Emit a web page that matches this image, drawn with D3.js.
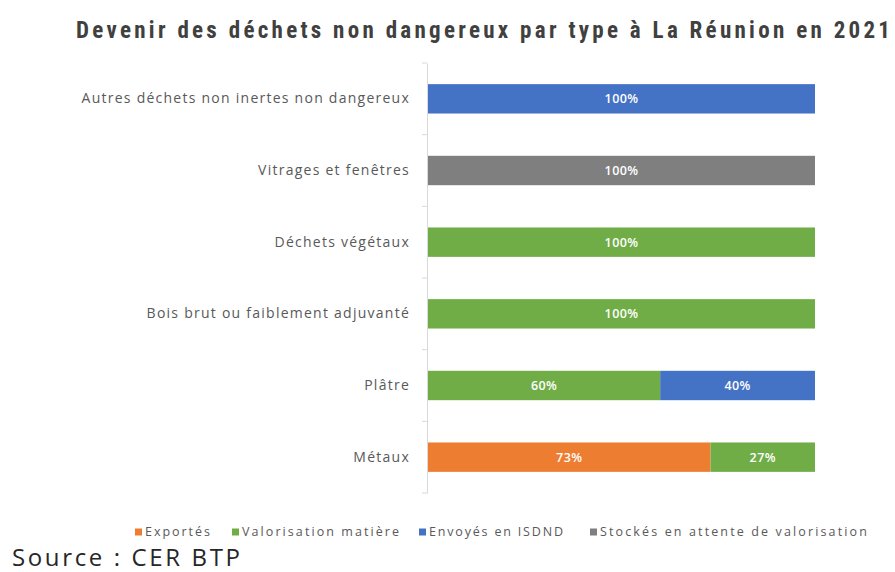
<!DOCTYPE html>
<html>
<head>
<meta charset="utf-8">
<script src="https://cdn.jsdelivr.net/npm/d3@7"></script>
<style>
  body { margin: 0; background: #fff; }
  svg { display: block; }
</style>
</head>
<body>
<div id="chart"></div>
<script>
(() => {

// DATA
const categories = [
  "Autres déchets non inertes non dangereux",
  "Vitrages et fenêtres",
  "Déchets végétaux",
  "Bois brut ou faiblement adjuvanté",
  "Plâtre",
  "Métaux"
];
const seriesNames = ["Exportés", "Valorisation matière", "Envoyés en ISDND", "Stockés en attente de valorisation"];
const exportes     = [0, 0, 0, 0, 0, 73];
const valorisation = [0, 0, 100, 100, 60, 27];
const envoyes      = [100, 0, 0, 0, 40, 0];
const stockes      = [0, 100, 0, 0, 0, 0];
const seriesColors = ["#ED7D31", "#70AD47", "#4472C4", "#7F7F7F"];

const width = 895, height = 572;
const font = "'Open Sans', 'Noto Sans', sans-serif";

const svg = d3.select("#chart")
  .append("svg")
  .attr("width", width)
  .attr("height", height);

// table for the stack
const rows = categories.map((c, i) => ({
  cat: c,
  [seriesNames[0]]: exportes[i],
  [seriesNames[1]]: valorisation[i],
  [seriesNames[2]]: envoyes[i],
  [seriesNames[3]]: stockes[i]
}));
const stacked = d3.stack().keys(seriesNames)(rows);

// scales
const x = d3.scaleLinear().domain([0, 100]).range([428, 815]);
const y = d3.scaleBand().domain(categories).range([63, 493]).padding(0);
const barH = y.bandwidth() * 0.41;
const color = d3.scaleOrdinal().domain(seriesNames).range(seriesColors);

// stretch text with letter spacing to a target width
function fitSpacing(sel, target) {
  const node = sel.node();
  const w = node.getComputedTextLength();
  const n = node.textContent.length;
  sel.attr("letter-spacing", ((target - w) / Math.max(1, n - 1)).toFixed(2));
}

// title
const title = svg.append("text")
  .attr("x", 76)
  .attr("y", 38)
  .attr("font-family", "'Roboto Condensed', 'Roboto', sans-serif")
  .attr("font-weight", "bold")
  .attr("font-size", 23)
  .attr("fill", "#404040")
  .text("Devenir des déchets non dangereux par type à La Réunion en 2021");
fitSpacing(title, 814);

// y axis
const yAxis = svg.append("g")
  .attr("transform", "translate(427,0)")
  .call(d3.axisLeft(y).tickSize(0).tickPadding(17));
yAxis.select(".domain").attr("stroke", "#d9d9d9");
yAxis.selectAll(".tick text")
  .attr("font-family", font)
  .attr("font-size", 14)
  .attr("fill", "#595959");

// band boundary ticks
const bounds = categories.map(c => y(c)).concat([y.range()[1]]);
yAxis.selectAll(".bound")
  .data(bounds)
  .enter()
  .append("line")
  .attr("class", "bound")
  .attr("x1", -5).attr("x2", 0)
  .attr("y1", d => d).attr("y2", d => d)
  .attr("stroke", "#d9d9d9");

// same spacing for all category labels, fitted on the longest one
const longest = yAxis.selectAll(".tick text").filter(d => d === categories[0]);
const lw = longest.node().getComputedTextLength();
const ls = (327 - lw) / (categories[0].length - 1);
yAxis.selectAll(".tick text").attr("letter-spacing", ls.toFixed(2));

// bars
const layer = svg.selectAll(".layer")
  .data(stacked)
  .enter()
  .append("g")
  .attr("class", "layer")
  .attr("fill", d => color(d.key));

layer.selectAll("rect")
  .data(d => d.filter(p => p[1] - p[0] > 0))
  .enter()
  .append("rect")
  .attr("x", d => x(d[0]))
  .attr("width", d => x(d[1]) - x(d[0]))
  .attr("y", d => y(d.data.cat) + (y.bandwidth() - barH) / 2)
  .attr("height", barH);

layer.selectAll("text")
  .data(d => d.filter(p => p[1] - p[0] > 0))
  .enter()
  .append("text")
  .attr("x", d => (x(d[0]) + x(d[1])) / 2)
  .attr("y", d => y(d.data.cat) + y.bandwidth() / 2)
  .attr("dy", "0.35em")
  .attr("text-anchor", "middle")
  .attr("font-family", font)
  .attr("font-size", 12.5)
  .attr("font-weight", 600)
  .attr("letter-spacing", 0.4)
  .attr("fill", "#fff")
  .text(d => (d[1] - d[0]) + "%");

// legend
const legend = svg.append("g");
const legendX = [135, 232, 419, 590];
const legendW = [66, 158, 135, 268];
seriesNames.forEach((s, i) => {
  const g = legend.append("g").attr("transform", `translate(${legendX[i]},532)`);
  g.append("rect")
    .attr("x", 0).attr("y", -3.5)
    .attr("width", 7).attr("height", 7)
    .attr("fill", color(s));
  const t = g.append("text")
    .attr("x", 10)
    .attr("dy", "0.35em")
    .attr("font-family", font)
    .attr("font-size", 12.5)
    .attr("fill", "#595959")
    .text(s);
  fitSpacing(t, legendW[i] - 1);
});

// source
const src = svg.append("text")
  .attr("x", 12)
  .attr("y", 566)
  .attr("font-family", "'Open Sans', 'Noto Sans', sans-serif")
  .attr("font-size", 24)
  .attr("fill", "#262626")
  .text("Source : CER BTP");
fitSpacing(src, 228);

})();
</script>
</body>
</html>
